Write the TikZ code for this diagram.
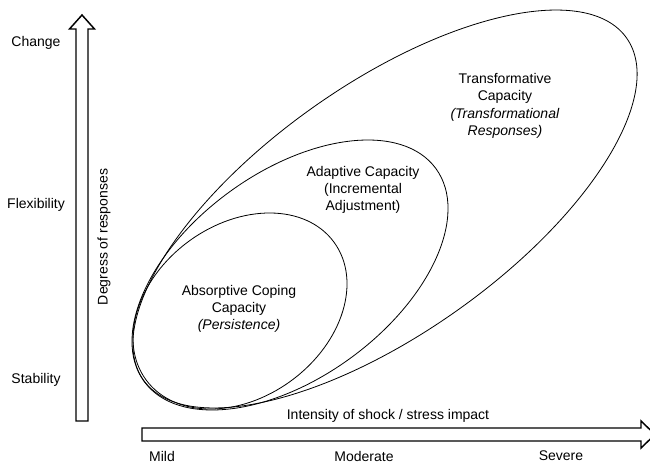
\documentclass[tikz,border=0pt]{standalone}
\usepackage{fontspec}
\setmainfont{Liberation Sans}
\usetikzlibrary{positioning}

\begin{document}
\begin{tikzpicture}[
    x=0.75pt, y=-0.75pt,
    every node/.style={font=\fontsize{10.5}{13}\selectfont, inner sep=1pt},
    capacity/.style={align=center},
    blockarrow/.style={draw=black, line width=1.1pt, line join=miter},
    region/.style={draw=black, line width=0.6pt}
]
    \useasboundingbox (0,0) rectangle (650,471);
    \clip (0,0) rectangle (650,471);

    % nested capacity regions
    \draw[region, rotate around={35.3:(385,209)}] (385,209) ellipse [x radius=296, y radius=124.5];
    \draw[region, rotate around={36.1:(290,275)}] (290,275) ellipse [x radius=180.6, y radius=102.8];
    \draw[region, rotate around={36.2:(240,311)}] (240,311) ellipse [x radius=116.5, y radius=86.5];

    % axes
    \draw[blockarrow] (76,421) -- (76,29) -- (69.5,29) -- (82,15) -- (94.5,29) -- (88,29) -- (88,421) -- cycle;
    \draw[blockarrow] (142,428) -- (641,428) -- (641,421) -- (655,434.5) -- (641,448) -- (641,441) -- (142,441) -- cycle;

    \node (change) at (36,43) {Change};
    \node (flex) at (36,205) {Flexibility};
    \node (stab) at (36,380) {Stability};
    \node[rotate=90] (degrees) at (104,237) {Degress of responses};

    \node (intensity) at (388,416) {Intensity of shock / stress impact};
    \node (mild) at (162,456) {Mild};
    \node (moderate) at (364,456) {Moderate};
    \node (severe) at (561,456) {Severe};

    \node[capacity] (absorptive) at (239,309) {Absorptive Coping\\Capacity\\\textit{(Persistence)}};
    \node[capacity] (adaptive) at (363,190) {Adaptive Capacity\\(Incremental\\Adjustment)};
    \node[capacity] (transformative) at (505,106) {Transformative\\Capacity\\\textit{(Transformational}\\\textit{Responses)}};
\end{tikzpicture}
\end{document}
